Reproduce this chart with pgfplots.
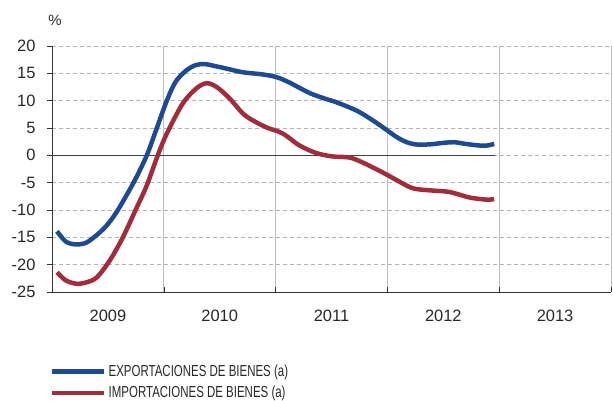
\documentclass[border=0pt]{standalone}
\usepackage{pgfplots}
\pgfplotsset{compat=1.18}
\usepackage{fontspec}
\setmainfont{Liberation Sans}
\newfontfamily\narrowfont[FakeStretch=0.72]{Liberation Sans}
\definecolor{expblue}{RGB}{31,73,145}
\definecolor{impred}{RGB}{161,44,60}
\definecolor{txtgray}{RGB}{40,40,40}
\begin{document}
\begin{tikzpicture}
\useasboundingbox (-52bp,-109bp) rectangle (561bp,292bp);
\begin{axis}[
  at={(0,0)}, anchor=south west,
  scale only axis, width=559bp, height=246bp,
  xmin=0, xmax=5, ymin=-25, ymax=20,
  axis x line*=bottom, axis y line*=left,
  axis line style={black!80, line width=0.8pt},
  ytick={-25,-20,...,20},
  yticklabel style={font=\fontsize{16.5}{16.5}\selectfont, text=txtgray, xshift=-8bp},
  /pgf/number format/assume math mode=true,
  xtick={1,2,3,4,5},
  xticklabels={},
  extra x ticks={0.5,1.5,2.5,3.5,4.5},
  extra x tick labels={2009,2010,2011,2012,2013},
  extra x tick style={major tick length=0pt, grid=none,
     xticklabel style={font=\fontsize{16.5}{16.5}\selectfont, text=txtgray, yshift=-15bp}},
  major tick length=5bp,
  tick style={black!80, line width=0.6pt},
  xtick align=inside, ytick align=outside,
  ymajorgrids, xmajorgrids,
  grid style={black!30, line width=0.7pt},
  y grid style={black!30, dashed, dash pattern=on 4bp off 3bp, line width=0.7pt},
  x grid style={black!25, line width=1pt},
  clip=false,
  legend style={at={(-2bp,-71bp)}, anchor=north west, draw=none, fill=none,
     font=\narrowfont\fontsize{16}{16}\selectfont, text=txtgray,
     row sep=4bp, inner sep=0pt},
  legend cell align=left,
  legend image code/.code={\draw[#1, line width=4.5pt] (0bp,0bp) -- (52bp,0bp);},
]
\addplot[black!75, line width=0.8pt, forget plot] coordinates {(0,0) (3.96,0)};
\addplot[expblue, line width=4.5pt, smooth, tension=0.5] coordinates {
(0.045,-13.9) (0.125,-15.8) (0.214,-16.3) (0.304,-16.0) (0.393,-14.7) (0.482,-13.0)
(0.571,-10.6) (0.661,-7.5) (0.75,-4.2) (0.848,0) (0.929,4.5) (1.027,10.0)
(1.107,13.5) (1.205,15.6) (1.286,16.5) (1.366,16.7) (1.464,16.3) (1.554,15.9)
(1.705,15.2) (1.884,14.8) (2.009,14.3) (2.125,13.3) (2.304,11.4) (2.437,10.4)
(2.545,9.7) (2.723,8.2) (2.839,6.8) (2.955,5.2) (3.071,3.5) (3.161,2.5)
(3.25,2.0) (3.375,2.0) (3.509,2.3) (3.598,2.4) (3.696,2.1) (3.821,1.8)
(3.893,1.8) (3.955,2.1)};
\addlegendentry{EXPORTACIONES DE BIENES (a)}
\addplot[impred, line width=4.5pt, smooth, tension=0.5] coordinates {
(0.045,-21.4) (0.125,-22.9) (0.223,-23.5) (0.313,-23.2) (0.402,-22.3) (0.518,-19.2)
(0.634,-15.0) (0.759,-9.5) (0.848,-5.5) (0.946,0) (1.027,4.0) (1.17,9.5)
(1.295,12.3) (1.384,13.2) (1.473,12.5) (1.589,10.4) (1.705,7.7) (1.795,6.4)
(1.92,5.1) (2.063,4.0) (2.214,1.8) (2.366,0.4) (2.509,-0.2) (2.661,-0.4)
(2.777,-1.3) (2.955,-3.1) (3.08,-4.5) (3.223,-6.0) (3.375,-6.4) (3.554,-6.7)
(3.732,-7.7) (3.884,-8.1) (3.955,-8.0)};
\addlegendentry{IMPORTACIONES DE BIENES (a)}
\node[font=\fontsize{15}{15}\selectfont, text=txtgray] at (axis cs:0,20) [xshift=3bp, yshift=26bp] {\%};
\end{axis}
\end{tikzpicture}
\end{document}
